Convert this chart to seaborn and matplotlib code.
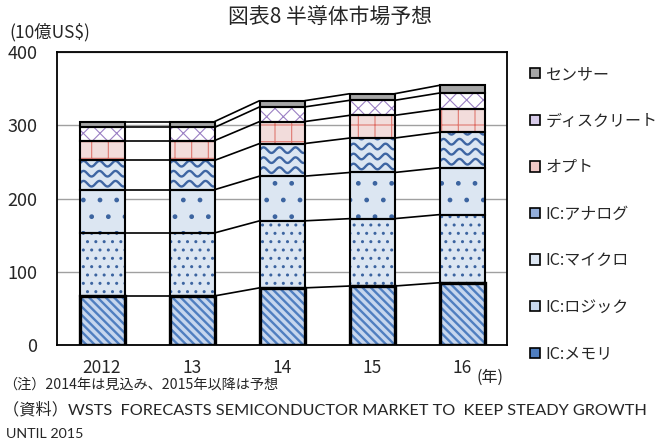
import numpy as np
import pandas as pd
import matplotlib
matplotlib.use("Agg")
import matplotlib.pyplot as plt
import matplotlib.patches as mpatches
import seaborn as sns

# ---- data (10億US$) ----
years = ["2012", "13", "14", "15", "16"]
memory = [67, 67, 78, 80.5, 85]
logic = [86, 86, 91.5, 92, 93]
micro = [59, 59, 61, 63, 64]
analog = [40, 40, 44.5, 47, 48.5]
opto = [27, 27, 30, 31, 31.5]
discrete = [18, 18, 20, 20.5, 22]
sensor = [8, 8, 8.5, 9, 10.5]

series_names = ["IC:メモリ", "IC:ロジック", "IC:マイクロ", "IC:アナログ", "オプト", "ディスクリート", "センサー"]
series_vals = [memory, logic, micro, analog, opto, discrete, sensor]

sns.set_style("white")
plt.rcParams["font.family"] = ["Noto Sans CJK JP", "DejaVu Sans"]
plt.rcParams["hatch.linewidth"] = 1.0

fig = plt.figure(figsize=(6.67, 4.45), dpi=100)
ax = fig.add_axes([57 / 667, 1 - 345 / 445, 450 / 667, 293 / 445])

styles = [
    dict(bg="#C6D6EE", hc="#4F7EC0", hatch="\\\\\\\\", lw=2.4, hlw=1.7, leg="#4F7EC0"),   # memory
    dict(bg="#DCE6F2", hc="#3C64A0", hatch="..", lw=1.5, hlw=1.0, leg="#C9D8EE"),         # logic
    dict(bg="#DCE6F2", hc="#3C64A0", hatch=".", lw=1.5, hlw=1.0, leg="#DCE6F2"),          # micro
    dict(bg="#DCE6F2", hc=None, hatch=None, lw=1.5, hlw=1.0, leg="#93AEDA"),              # analog (waves)
    dict(bg="#F2DCDB", hc="#E07870", hatch="+", lw=1.5, hlw=0.8, leg="#F0C8C6"),          # opto
    dict(bg="#FFFFFF", hc="#9B80C4", hatch="xx", lw=1.5, hlw=0.8, leg="#D8CCEA"),         # discrete
    dict(bg="#A6A6A6", hc=None, hatch=None, lw=1.5, hlw=1.0, leg="#A6A6A6"),              # sensor
]

df = pd.DataFrame({"year": years})
bottom = np.zeros(len(years))
containers = []
for name, vals, st in zip(series_names, series_vals, styles):
    df[name] = vals
    n_before = len(ax.patches)
    sns.barplot(data=df, x="year", y=name, order=years, bottom=bottom,
                color=st["bg"], saturation=1, width=0.5, edgecolor="none",
                linewidth=0, ax=ax, zorder=2)
    bars = ax.patches[n_before:]
    containers.append(bars)
    for p in bars:
        p.set_facecolor(st["bg"])
        if st["hatch"]:
            h = mpatches.Rectangle((p.get_x(), p.get_y()), p.get_width(), p.get_height(),
                                   facecolor="none", edgecolor=st["hc"], linewidth=0,
                                   hatch=st["hatch"], zorder=3)
            if hasattr(h, "set_hatch_linewidth"):
                h.set_hatch_linewidth(st["hlw"])
            ax.add_patch(h)
    bottom = bottom + np.array(vals, dtype=float)

# waves for analog segments
px_y = 293 / 400.0   # px per unit
px_x = 90.0          # px per category
for p in containers[3]:
    x0, w, y0, hgt = p.get_x(), p.get_width(), p.get_y(), p.get_height()
    xs = np.linspace(x0, x0 + w, 200)
    clip = mpatches.Rectangle((x0, y0), w, hgt, transform=ax.transData)
    spacing = 10 / px_y
    amp = 2.8 / px_y
    period = 16 / px_x
    yc = y0 + spacing * 0.6
    while yc < y0 + hgt + spacing:
        ys = yc + amp * np.sin(2 * np.pi * (xs - x0) / period)
        ln, = ax.plot(xs, ys, color="#3F66A3", lw=1.7, zorder=3)
        ln.set_clip_path(clip)
        yc += spacing

# borders
for bars, st in zip(containers, styles):
    for p in bars:
        b = mpatches.Rectangle((p.get_x(), p.get_y()), p.get_width(), p.get_height(),
                               facecolor="none", edgecolor="black", linewidth=st["lw"], zorder=4)
        ax.add_patch(b)

# series connector lines
for bars in containers:
    for i in range(len(bars) - 1):
        a, c = bars[i], bars[i + 1]
        ax.plot([a.get_x() + a.get_width(), c.get_x()],
                [a.get_y() + a.get_height(), c.get_y() + c.get_height()],
                color="black", lw=1.2, zorder=4, solid_capstyle="butt")

ax.set_ylim(0, 400)
ax.set_xlim(-0.5, len(years) - 0.5)
ax.set_yticks([0, 100, 200, 300, 400])
ax.yaxis.grid(True, color="#A0A0A0", lw=1.0, zorder=0)
ax.set_axisbelow(True)
ax.set_xlabel("")
ax.set_ylabel("")
for s in ax.spines.values():
    s.set_visible(True)
    s.set_color("black")
    s.set_linewidth(1.3)
ax.tick_params(axis="y", length=0, pad=14, labelsize=13)
ax.tick_params(axis="x", which="major", length=0, pad=10, labelsize=12.5)
ax.set_xticks(np.arange(len(years)) + 0.5, minor=True)
ax.tick_params(axis="x", which="minor", direction="in", length=4, width=1.2, color="black")

# legend
handles = []
for name, st in zip(series_names, styles):
    handles.append(mpatches.Patch(facecolor=st["leg"], edgecolor="black",
                                  linewidth=1.2, label=name))
leg = fig.legend(handles=handles[::-1], loc="upper left",
                 bbox_to_anchor=(530 / 667, 1 - 66 / 445), frameon=False,
                 fontsize=11.5, handlelength=0.6, handleheight=0.6,
                 handletextpad=0.35, labelspacing=1.85, borderaxespad=0, borderpad=0)

fig.text(330 / 667, 1 - 18 / 445, "図表8 半導体市場予想", ha="center", va="center", fontsize=15)
fig.text(9 / 667, 1 - 32 / 445, "(10億US$)", ha="left", va="center", fontsize=12.5)
fig.text(490 / 667, 1 - 377 / 445, "(年)", ha="center", va="center", fontsize=11.5)
fig.text(3 / 667, 1 - 385 / 445, "（注）2014年は見込み、2015年以降は予想", ha="left", va="center", fontsize=10.2)
latin = ["Lato", "Noto Sans CJK JP", "DejaVu Sans"]
fig.text(3 / 667, 1 - 410 / 445,
         "（資料）WSTS  FORECASTS SEMICONDUCTOR MARKET TO  KEEP STEADY GROWTH",
         ha="left", va="center", fontsize=11.7, family=latin)
fig.text(6 / 667, 1 - 434 / 445, "UNTIL 2015", ha="left", va="center", fontsize=10.3, family=latin)

fig.savefig("out.png", dpi=100)
